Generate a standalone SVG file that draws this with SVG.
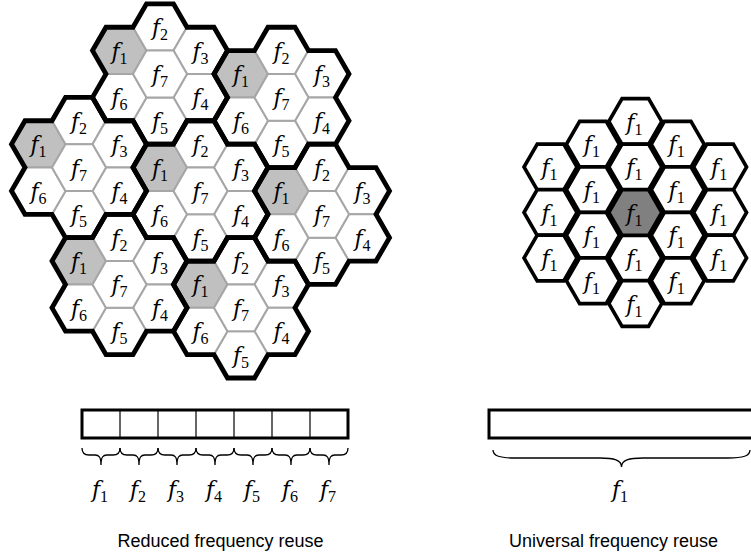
<svg xmlns="http://www.w3.org/2000/svg" xmlns:xlink="http://www.w3.org/1999/xlink" width="751" height="556" viewBox="0 0 751 556">
<style>
.c{fill:#fff;stroke:#a6a6a6;stroke-width:2}
.c1{fill:#c0c0c0;stroke:#a6a6a6;stroke-width:2}
.ol{fill:none;stroke:#000;stroke-width:4.8;stroke-linejoin:miter}
.u{fill:#fff;stroke:#000;stroke-width:3.6}
.u0{fill:#808080;stroke:#000;stroke-width:3.6}
.lb{font-family:"DejaVu Serif","Liberation Serif",serif;font-size:22px;font-style:italic;text-anchor:middle;fill:#000}
.sb{font-family:"Liberation Serif","Times New Roman",serif;font-size:16px;font-style:normal}
.cap{font-family:"Liberation Sans",Arial,sans-serif;font-size:18px;text-anchor:middle;fill:#000}
.br{fill:none;stroke:#000;stroke-width:1.3}
.bar{fill:#fff;stroke:#000;stroke-width:3}
.dv{stroke:#000;stroke-width:1.2}
</style>
<defs>
<polygon id="hx" points="-27,0 -13.5,-23.38 13.5,-23.38 27,0 13.5,23.38 -13.5,23.38"/>
<polygon id="hu" points="-26.5,0 -13.25,-22.9 13.25,-22.9 26.5,0 13.25,22.9 -13.25,22.9"/>
<path id="cl" d="M-13.5,-70.15 L13.5,-70.15 L27,-46.77 L54,-46.77 L67.5,-23.38 L54,0 L67.5,23.38 L54,46.77 L27,46.77 L13.5,70.15 L-13.5,70.15 L-27,46.77 L-54,46.77 L-67.5,23.38 L-54,0 L-67.5,-23.38 L-54,-46.77 L-27,-46.77 Z"/>
</defs>

<g id="clusterA" transform="translate(160,74)">
<use href="#hx" x="-40.5" y="-23.38" class="c1"/><use href="#hx" x="0" y="-46.77" class="c"/><use href="#hx" x="40.5" y="-23.38" class="c"/><use href="#hx" x="40.5" y="23.38" class="c"/><use href="#hx" x="0" y="46.77" class="c"/><use href="#hx" x="-40.5" y="23.38" class="c"/><use href="#hx" x="0" y="0" class="c"/>
<text class="lb" x="-40.5" y="-15.4">f<tspan class="sb" dy="5">1</tspan></text>
<text class="lb" x="0" y="-38.8">f<tspan class="sb" dy="5">2</tspan></text>
<text class="lb" x="40.5" y="-15.4">f<tspan class="sb" dy="5">3</tspan></text>
<text class="lb" x="40.5" y="31.4">f<tspan class="sb" dy="5">4</tspan></text>
<text class="lb" x="0" y="54.8">f<tspan class="sb" dy="5">5</tspan></text>
<text class="lb" x="-40.5" y="31.4">f<tspan class="sb" dy="5">6</tspan></text>
<text class="lb" x="0" y="8">f<tspan class="sb" dy="5">7</tspan></text>
</g>
<g id="clusterB" transform="translate(281.5,97.38)">
<use href="#hx" x="-40.5" y="-23.38" class="c1"/><use href="#hx" x="0" y="-46.77" class="c"/><use href="#hx" x="40.5" y="-23.38" class="c"/><use href="#hx" x="40.5" y="23.38" class="c"/><use href="#hx" x="0" y="46.77" class="c"/><use href="#hx" x="-40.5" y="23.38" class="c"/><use href="#hx" x="0" y="0" class="c"/>
<text class="lb" x="-40.5" y="-15.4">f<tspan class="sb" dy="5">1</tspan></text>
<text class="lb" x="0" y="-38.8">f<tspan class="sb" dy="5">2</tspan></text>
<text class="lb" x="40.5" y="-15.4">f<tspan class="sb" dy="5">3</tspan></text>
<text class="lb" x="40.5" y="31.4">f<tspan class="sb" dy="5">4</tspan></text>
<text class="lb" x="0" y="54.8">f<tspan class="sb" dy="5">5</tspan></text>
<text class="lb" x="-40.5" y="31.4">f<tspan class="sb" dy="5">6</tspan></text>
<text class="lb" x="0" y="8">f<tspan class="sb" dy="5">7</tspan></text>
</g>
<g id="clusterC" transform="translate(79,167.54)">
<use href="#hx" x="-40.5" y="-23.38" class="c1"/><use href="#hx" x="0" y="-46.77" class="c"/><use href="#hx" x="40.5" y="-23.38" class="c"/><use href="#hx" x="40.5" y="23.38" class="c"/><use href="#hx" x="0" y="46.77" class="c"/><use href="#hx" x="-40.5" y="23.38" class="c"/><use href="#hx" x="0" y="0" class="c"/>
<text class="lb" x="-40.5" y="-15.4">f<tspan class="sb" dy="5">1</tspan></text>
<text class="lb" x="0" y="-38.8">f<tspan class="sb" dy="5">2</tspan></text>
<text class="lb" x="40.5" y="-15.4">f<tspan class="sb" dy="5">3</tspan></text>
<text class="lb" x="40.5" y="31.4">f<tspan class="sb" dy="5">4</tspan></text>
<text class="lb" x="0" y="54.8">f<tspan class="sb" dy="5">5</tspan></text>
<text class="lb" x="-40.5" y="31.4">f<tspan class="sb" dy="5">6</tspan></text>
<text class="lb" x="0" y="8">f<tspan class="sb" dy="5">7</tspan></text>
</g>
<g id="clusterD" transform="translate(200.5,190.92)">
<use href="#hx" x="-40.5" y="-23.38" class="c1"/><use href="#hx" x="0" y="-46.77" class="c"/><use href="#hx" x="40.5" y="-23.38" class="c"/><use href="#hx" x="40.5" y="23.38" class="c"/><use href="#hx" x="0" y="46.77" class="c"/><use href="#hx" x="-40.5" y="23.38" class="c"/><use href="#hx" x="0" y="0" class="c"/>
<text class="lb" x="-40.5" y="-15.4">f<tspan class="sb" dy="5">1</tspan></text>
<text class="lb" x="0" y="-38.8">f<tspan class="sb" dy="5">2</tspan></text>
<text class="lb" x="40.5" y="-15.4">f<tspan class="sb" dy="5">3</tspan></text>
<text class="lb" x="40.5" y="31.4">f<tspan class="sb" dy="5">4</tspan></text>
<text class="lb" x="0" y="54.8">f<tspan class="sb" dy="5">5</tspan></text>
<text class="lb" x="-40.5" y="31.4">f<tspan class="sb" dy="5">6</tspan></text>
<text class="lb" x="0" y="8">f<tspan class="sb" dy="5">7</tspan></text>
</g>
<g id="clusterE" transform="translate(322,214.3)">
<use href="#hx" x="-40.5" y="-23.38" class="c1"/><use href="#hx" x="0" y="-46.77" class="c"/><use href="#hx" x="40.5" y="-23.38" class="c"/><use href="#hx" x="40.5" y="23.38" class="c"/><use href="#hx" x="0" y="46.77" class="c"/><use href="#hx" x="-40.5" y="23.38" class="c"/><use href="#hx" x="0" y="0" class="c"/>
<text class="lb" x="-40.5" y="-15.4">f<tspan class="sb" dy="5">1</tspan></text>
<text class="lb" x="0" y="-38.8">f<tspan class="sb" dy="5">2</tspan></text>
<text class="lb" x="40.5" y="-15.4">f<tspan class="sb" dy="5">3</tspan></text>
<text class="lb" x="40.5" y="31.4">f<tspan class="sb" dy="5">4</tspan></text>
<text class="lb" x="0" y="54.8">f<tspan class="sb" dy="5">5</tspan></text>
<text class="lb" x="-40.5" y="31.4">f<tspan class="sb" dy="5">6</tspan></text>
<text class="lb" x="0" y="8">f<tspan class="sb" dy="5">7</tspan></text>
</g>
<g id="clusterF" transform="translate(119.5,284.45)">
<use href="#hx" x="-40.5" y="-23.38" class="c1"/><use href="#hx" x="0" y="-46.77" class="c"/><use href="#hx" x="40.5" y="-23.38" class="c"/><use href="#hx" x="40.5" y="23.38" class="c"/><use href="#hx" x="0" y="46.77" class="c"/><use href="#hx" x="-40.5" y="23.38" class="c"/><use href="#hx" x="0" y="0" class="c"/>
<text class="lb" x="-40.5" y="-15.4">f<tspan class="sb" dy="5">1</tspan></text>
<text class="lb" x="0" y="-38.8">f<tspan class="sb" dy="5">2</tspan></text>
<text class="lb" x="40.5" y="-15.4">f<tspan class="sb" dy="5">3</tspan></text>
<text class="lb" x="40.5" y="31.4">f<tspan class="sb" dy="5">4</tspan></text>
<text class="lb" x="0" y="54.8">f<tspan class="sb" dy="5">5</tspan></text>
<text class="lb" x="-40.5" y="31.4">f<tspan class="sb" dy="5">6</tspan></text>
<text class="lb" x="0" y="8">f<tspan class="sb" dy="5">7</tspan></text>
</g>
<g id="clusterG" transform="translate(241,307.84)">
<use href="#hx" x="-40.5" y="-23.38" class="c1"/><use href="#hx" x="0" y="-46.77" class="c"/><use href="#hx" x="40.5" y="-23.38" class="c"/><use href="#hx" x="40.5" y="23.38" class="c"/><use href="#hx" x="0" y="46.77" class="c"/><use href="#hx" x="-40.5" y="23.38" class="c"/><use href="#hx" x="0" y="0" class="c"/>
<text class="lb" x="-40.5" y="-15.4">f<tspan class="sb" dy="5">1</tspan></text>
<text class="lb" x="0" y="-38.8">f<tspan class="sb" dy="5">2</tspan></text>
<text class="lb" x="40.5" y="-15.4">f<tspan class="sb" dy="5">3</tspan></text>
<text class="lb" x="40.5" y="31.4">f<tspan class="sb" dy="5">4</tspan></text>
<text class="lb" x="0" y="54.8">f<tspan class="sb" dy="5">5</tspan></text>
<text class="lb" x="-40.5" y="31.4">f<tspan class="sb" dy="5">6</tspan></text>
<text class="lb" x="0" y="8">f<tspan class="sb" dy="5">7</tspan></text>
</g>

<g id="cluster-outlines">
<use href="#cl" class="ol" x="160" y="74"/>
<use href="#cl" class="ol" x="281.5" y="97.38"/>
<use href="#cl" class="ol" x="79" y="167.54"/>
<use href="#cl" class="ol" x="200.5" y="190.92"/>
<use href="#cl" class="ol" x="322" y="214.3"/>
<use href="#cl" class="ol" x="119.5" y="284.45"/>
<use href="#cl" class="ol" x="241" y="307.84"/>
</g>

<g id="universal" transform="translate(635.3,212.5)">
<use href="#hu" class="u" x="0" y="-91"/><use href="#hu" class="u" x="0" y="-45.5"/><use href="#hu" class="u" x="0" y="45.5"/><use href="#hu" class="u" x="0" y="91"/>
<use href="#hu" class="u" x="-42.4" y="-68.25"/><use href="#hu" class="u" x="-42.4" y="-22.75"/><use href="#hu" class="u" x="-42.4" y="22.75"/><use href="#hu" class="u" x="-42.4" y="68.25"/>
<use href="#hu" class="u" x="42.4" y="-68.25"/><use href="#hu" class="u" x="42.4" y="-22.75"/><use href="#hu" class="u" x="42.4" y="22.75"/><use href="#hu" class="u" x="42.4" y="68.25"/>
<use href="#hu" class="u" x="-84.8" y="-45.5"/><use href="#hu" class="u" x="-84.8" y="0"/><use href="#hu" class="u" x="-84.8" y="45.5"/>
<use href="#hu" class="u" x="84.8" y="-45.5"/><use href="#hu" class="u" x="84.8" y="0"/><use href="#hu" class="u" x="84.8" y="45.5"/>
<use href="#hu" class="u0" x="0" y="0"/>
<text class="lb" x="-1" y="-83">f<tspan class="sb" dy="5">1</tspan></text>
<text class="lb" x="-1" y="-37.5">f<tspan class="sb" dy="5">1</tspan></text>
<text class="lb" x="-1" y="8">f<tspan class="sb" dy="5">1</tspan></text>
<text class="lb" x="-1" y="53.5">f<tspan class="sb" dy="5">1</tspan></text>
<text class="lb" x="-1" y="99">f<tspan class="sb" dy="5">1</tspan></text>
<text class="lb" x="-43.4" y="-60.25">f<tspan class="sb" dy="5">1</tspan></text>
<text class="lb" x="-43.4" y="-14.75">f<tspan class="sb" dy="5">1</tspan></text>
<text class="lb" x="-43.4" y="30.75">f<tspan class="sb" dy="5">1</tspan></text>
<text class="lb" x="-43.4" y="76.25">f<tspan class="sb" dy="5">1</tspan></text>
<text class="lb" x="41.4" y="-60.25">f<tspan class="sb" dy="5">1</tspan></text>
<text class="lb" x="41.4" y="-14.75">f<tspan class="sb" dy="5">1</tspan></text>
<text class="lb" x="41.4" y="30.75">f<tspan class="sb" dy="5">1</tspan></text>
<text class="lb" x="41.4" y="76.25">f<tspan class="sb" dy="5">1</tspan></text>
<text class="lb" x="-85.8" y="-37.5">f<tspan class="sb" dy="5">1</tspan></text>
<text class="lb" x="-85.8" y="8">f<tspan class="sb" dy="5">1</tspan></text>
<text class="lb" x="-85.8" y="53.5">f<tspan class="sb" dy="5">1</tspan></text>
<text class="lb" x="83.8" y="-37.5">f<tspan class="sb" dy="5">1</tspan></text>
<text class="lb" x="83.8" y="8">f<tspan class="sb" dy="5">1</tspan></text>
<text class="lb" x="83.8" y="53.5">f<tspan class="sb" dy="5">1</tspan></text>
</g>

<g id="band-reduced">
<rect class="bar" x="82" y="410" width="266" height="28"/>
<line class="dv" x1="120" y1="410" x2="120" y2="438"/>
<line class="dv" x1="158" y1="410" x2="158" y2="438"/>
<line class="dv" x1="196" y1="410" x2="196" y2="438"/>
<line class="dv" x1="234" y1="410" x2="234" y2="438"/>
<line class="dv" x1="272" y1="410" x2="272" y2="438"/>
<line class="dv" x1="310" y1="410" x2="310" y2="438"/>
<path class="br" d="M82,448 C82,453 85,455 89,455 L95,455 C99,455 101,457 101,465 C101,457 103,455 107,455 L113,455 C117,455 120,453 120,448"/>
<path class="br" d="M120,448 C120,453 123,455 127,455 L133,455 C137,455 139,457 139,465 C139,457 141,455 145,455 L151,455 C155,455 158,453 158,448"/>
<path class="br" d="M158,448 C158,453 161,455 165,455 L171,455 C175,455 177,457 177,465 C177,457 179,455 183,455 L189,455 C193,455 196,453 196,448"/>
<path class="br" d="M196,448 C196,453 199,455 203,455 L209,455 C213,455 215,457 215,465 C215,457 217,455 221,455 L227,455 C231,455 234,453 234,448"/>
<path class="br" d="M234,448 C234,453 237,455 241,455 L247,455 C251,455 253,457 253,465 C253,457 255,455 259,455 L265,455 C269,455 272,453 272,448"/>
<path class="br" d="M272,448 C272,453 275,455 279,455 L285,455 C289,455 291,457 291,465 C291,457 293,455 297,455 L303,455 C307,455 310,453 310,448"/>
<path class="br" d="M310,448 C310,453 313,455 317,455 L323,455 C327,455 329,457 329,465 C329,457 331,455 335,455 L341,455 C345,455 348,453 348,448"/>
<text class="lb" x="100" y="496.5">f<tspan class="sb" dy="5">1</tspan></text>
<text class="lb" x="138" y="496.5">f<tspan class="sb" dy="5">2</tspan></text>
<text class="lb" x="176" y="496.5">f<tspan class="sb" dy="5">3</tspan></text>
<text class="lb" x="214" y="496.5">f<tspan class="sb" dy="5">4</tspan></text>
<text class="lb" x="252" y="496.5">f<tspan class="sb" dy="5">5</tspan></text>
<text class="lb" x="290" y="496.5">f<tspan class="sb" dy="5">6</tspan></text>
<text class="lb" x="328" y="496.5">f<tspan class="sb" dy="5">7</tspan></text>
<text class="cap" x="220.5" y="547">Reduced frequency reuse</text>
</g>

<g id="band-universal">
<rect class="bar" x="489" y="410" width="266" height="28"/>
<path class="br" d="M493,450 C493,456 500,458 515,458 L600,458 C614,458 621.5,460 621.5,467 C621.5,460 629,458 643,458 L728,458 C743,458 750,456 750,450"/>
<text class="lb" x="620" y="496.5">f<tspan class="sb" dy="5">1</tspan></text>
<text class="cap" x="613.5" y="547">Universal frequency reuse</text>
</g>
</svg>
